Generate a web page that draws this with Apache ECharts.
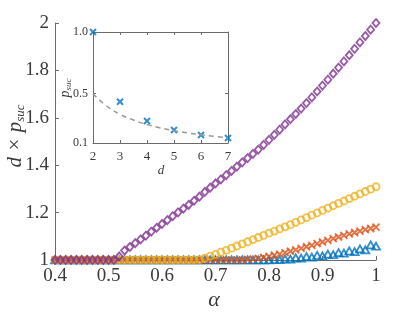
<!DOCTYPE html>
<html><head><meta charset="utf-8">
<script src="https://cdn.jsdelivr.net/npm/echarts@6/dist/echarts.min.js"></script>
<style>html,body{margin:0;padding:0;background:#fff}#c{width:415px;height:312px}</style>
</head><body><div id="c"></div>
<script>
// ---- main plot data: d x p_suc versus alpha ----
const alpha = [0.40,0.41,0.42,0.43,0.44,0.45,0.46,0.47,0.48,0.49,
  0.50,0.51,0.52,0.53,0.54,0.55,0.56,0.57,0.58,0.59,
  0.60,0.61,0.62,0.63,0.64,0.65,0.66,0.67,0.68,0.69,
  0.70,0.71,0.72,0.73,0.74,0.75,0.76,0.77,0.78,0.79,
  0.80,0.81,0.82,0.83,0.84,0.85,0.86,0.87,0.88,0.89,
  0.90,0.91,0.92,0.93,0.94,0.95,0.96,0.97,0.98,0.99,1.00];

const blueTriangles = [1,1,1,1,1,1,1,1,1,1,
  1,1,1,1,1,1,1,1,1,1,
  1,1,1,1,1,1,1,1,1,1,
  1,1,1,1,1,1,1,1,1,1,
  1,1.002,1.001,1.005,1.004,1.009,1.008,1.014,1.012,1.019,
  1.017,1.025,1.023,1.031,1.029,1.038,1.035,1.047,1.043,1.064,1.058];

const orangeCrosses = [1,1,1,1,1,1,1,1,1,1,
  1,1,1,1,1,1,1,1,1,1,
  1,1,1,1,1,1,1,1,1,1,
  1,1,1,1,1,1,1.002,1.004,1.007,1.011,
  1.015,1.020,1.025,1.031,1.037,1.043,1.049,1.056,1.062,1.069,
  1.076,1.083,1.090,1.097,1.104,1.110,1.116,1.122,1.128,1.133,1.139];

const yellowCircles = [1,1,1,1,1,1,1,1,1,1,
  1,1,1,1,1,1,1,1,1,1,
  1,1,1,1,1,1,1,1.002,1.008,1.016,
  1.024,1.033,1.041,1.050,1.059,1.068,1.077,1.086,1.095,1.104,
  1.113,1.122,1.131,1.140,1.149,1.159,1.169,1.179,1.189,1.199,
  1.209,1.219,1.229,1.239,1.249,1.259,1.269,1.279,1.289,1.299,1.309];

const purpleDiamonds = [1,1,1,1,1,1,1,1,1,1,
  1,1,1.015,1.040,1.055,1.071,1.087,1.103,1.120,1.136,
  1.152,1.168,1.185,1.201,1.217,1.233,1.250,1.267,1.287,1.305,
  1.323,1.340,1.358,1.376,1.394,1.412,1.430,1.448,1.466,1.486,
  1.507,1.528,1.550,1.572,1.594,1.616,1.639,1.662,1.686,1.711,
  1.736,1.761,1.786,1.812,1.838,1.864,1.891,1.918,1.945,1.972,2.000];

const mainXTicks = [0.4,0.5,0.6,0.7,0.8,0.9,1];
const mainYTicks = [1,1.2,1.4,1.6,1.8,2];

// ---- inset data: p_suc versus d ----
const insetD = [2,3,4,5,6,7];
const insetPsuc = [1.0,0.435,0.278,0.205,0.165,0.14];
const curveD = [2,2.5,3,3.5,4,4.5,5,5.5,6,6.5,7];
const curveP = [0.5,0.4,0.333,0.286,0.25,0.222,0.2,0.182,0.167,0.154,0.143];
const insetYTicks = [0.1,0.5,1.0];

const FONT = '"Liberation Serif", "DejaVu Serif", serif';
const AXC = '#6b6b6b';
const TXT = '#3a3a3a';

const chart = echarts.init(document.getElementById('c'), null, {renderer:'canvas'});
const pairs = (xs, ys) => xs.map((x, i) => [x, ys[i]]);
const hollow = (c, w) => ({color:'rgba(0,0,0,0)', borderColor:c, borderWidth:w});

chart.setOption({
  animation:false,
  backgroundColor:'#fff',
  grid:[
    {left:55, top:23, width:321, height:237},
    {left:93, top:32, width:135, height:111, show:true, backgroundColor:'#fff', borderWidth:0}
  ],
  xAxis:[
    {gridIndex:0, type:'value', min:0.4, max:1, interval:0.1,
     axisLine:{show:true, lineStyle:{color:AXC, width:1}},
     axisTick:{show:true, inside:true, length:4, lineStyle:{color:AXC}},
     axisLabel:{margin:7, fontFamily:FONT, fontSize:19, color:TXT,
       formatter:v => String(Math.round(v*10)/10)},
     splitLine:{show:false}},
    {gridIndex:1, type:'value', min:2, max:7, interval:1, position:'bottom',
     axisLine:{show:true, onZero:false, lineStyle:{color:AXC, width:1}},
     axisTick:{show:true, inside:true, length:3, lineStyle:{color:AXC}},
     axisLabel:{margin:7, fontFamily:FONT, fontSize:13, color:TXT},
     splitLine:{show:false}},
    {gridIndex:1, type:'value', min:2, max:7, interval:1, position:'top',
     axisLine:{show:true, onZero:false, lineStyle:{color:AXC, width:1}},
     axisTick:{show:true, inside:true, length:3, lineStyle:{color:AXC}},
     axisLabel:{show:false}, splitLine:{show:false}}
  ],
  yAxis:[
    {gridIndex:0, type:'value', min:1, max:2, interval:0.2,
     axisLine:{show:true, lineStyle:{color:AXC, width:1}},
     axisTick:{show:true, inside:true, length:4, lineStyle:{color:AXC}},
     axisLabel:{margin:6, fontFamily:FONT, fontSize:19, color:TXT,
       formatter:v => String(Math.round(v*10)/10)},
     splitLine:{show:false}},
    {gridIndex:1, type:'value', min:0.1, max:1.0, position:'left',
     axisLine:{show:true, onZero:false, lineStyle:{color:AXC, width:1}},
     axisTick:{show:true, inside:true, length:3, customValues:insetYTicks, lineStyle:{color:AXC}},
     axisLabel:{margin:5, fontFamily:FONT, fontSize:12, color:TXT, customValues:insetYTicks,
       formatter:v => v.toFixed(1)},
     splitLine:{show:false}},
    {gridIndex:1, type:'value', min:0.1, max:1.0, position:'right',
     axisLine:{show:true, onZero:false, lineStyle:{color:AXC, width:1}},
     axisTick:{show:true, inside:true, length:3, customValues:insetYTicks, lineStyle:{color:AXC}},
     axisLabel:{show:false}, splitLine:{show:false}}
  ],
  series:[
    {type:'scatter', xAxisIndex:0, yAxisIndex:0, data:pairs(alpha, blueTriangles),
     symbol:'triangle', symbolSize:[8,7], itemStyle:hollow('#0072BD',1.8)},
    {type:'scatter', xAxisIndex:0, yAxisIndex:0, data:pairs(alpha, orangeCrosses),
     symbol:'path://M0,0L10,10M10,0L0,10', symbolSize:7, itemStyle:hollow('#D95319',1.9)},
    {type:'scatter', xAxisIndex:0, yAxisIndex:0, data:pairs(alpha, yellowCircles),
     symbol:'circle', symbolSize:7, itemStyle:hollow('#EDB120',1.8)},
    {type:'scatter', xAxisIndex:0, yAxisIndex:0, data:pairs(alpha, purpleDiamonds),
     symbol:'diamond', symbolSize:[7,8], itemStyle:hollow('#7E2F8E',1.8)},
    {type:'line', xAxisIndex:1, yAxisIndex:1, data:pairs(curveD, curveP), smooth:true,
     symbol:'none', lineStyle:{color:'#999', width:1.5, type:[5,4]}},
    {type:'scatter', xAxisIndex:1, yAxisIndex:1, data:pairs(insetD, insetPsuc),
     symbol:'path://M0,0L10,10M10,0L0,10', symbolSize:6, itemStyle:hollow('#0072BD',2)}
  ],
  graphic:[
    {type:'text', x:214, y:300, style:{text:'α', font:'italic 22px ' + FONT, fill:TXT,
      align:'center', verticalAlign:'middle'}},
    {type:'text', x:15, y:136, rotation:Math.PI/2,
     style:{text:'{m|d × p}{s|suc}', align:'center', verticalAlign:'middle', fill:TXT,
       rich:{m:{fontFamily:FONT, fontStyle:'italic', fontSize:21, lineHeight:24, verticalAlign:'middle', fill:TXT},
             s:{fontFamily:FONT, fontStyle:'italic', fontSize:13, lineHeight:14, verticalAlign:'bottom', padding:[8,0,0,0], fill:TXT}}}},
    {type:'text', x:161, y:171, style:{text:'d', font:'italic 13px ' + FONT, fill:TXT,
      align:'center', verticalAlign:'middle'}},
    {type:'text', x:65, y:88, rotation:Math.PI/2,
     style:{text:'{m|p}{s|suc}', align:'center', verticalAlign:'middle', fill:TXT,
       rich:{m:{fontFamily:FONT, fontStyle:'italic', fontSize:14, lineHeight:16, verticalAlign:'middle', fill:TXT},
             s:{fontFamily:FONT, fontStyle:'italic', fontSize:9, lineHeight:10, verticalAlign:'bottom', padding:[5,0,0,0], fill:TXT}}}}
  ]
});
</script></body></html>
